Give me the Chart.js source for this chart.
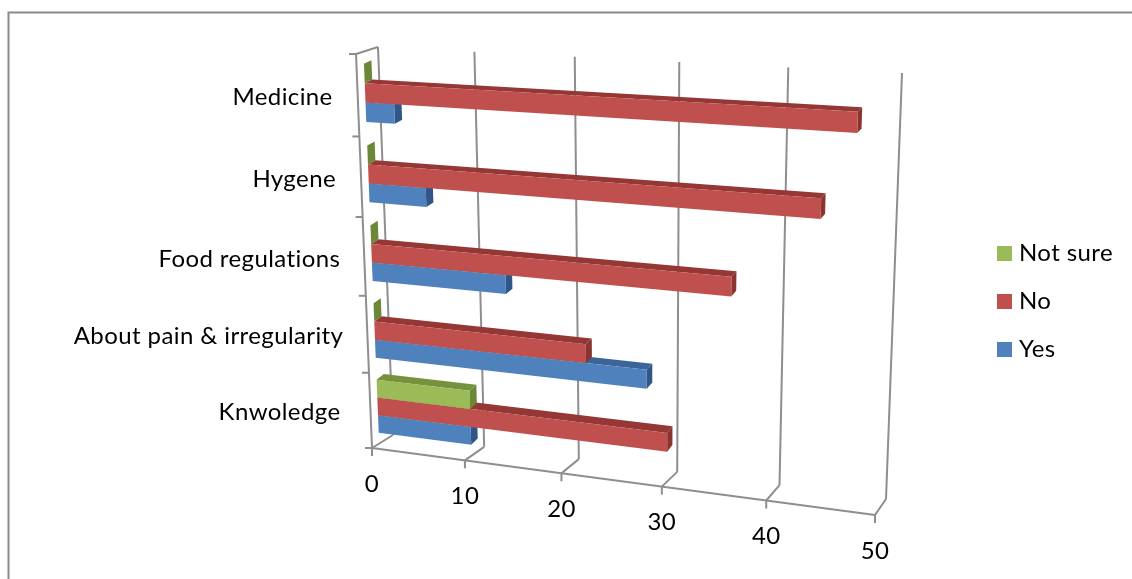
<!DOCTYPE html>
<html>
<head>
<meta charset="utf-8">
<style>html,body{margin:0;padding:0;background:#fff;overflow:hidden}canvas{display:block}</style>
<script src="https://cdn.jsdelivr.net/npm/chart.js@4"></script>
</head>
<body>
<canvas id="c" width="1132" height="579"></canvas>
<script>
const categories = ["Medicine", "Hygene", "Food regulations", "About pain & irregularity", "Knwoledge"];
const notSureValues = [0, 0, 0, 0, 10];
const noValues = [47, 44, 36, 22, 30];
const yesValues = [3, 6, 14, 28, 10];
const valueTicks = [0, 10, 20, 30, 40, 50];

const FONT = '24px Lato';
const SPACING = '0.4px';
const GRID = '#8e8e8e';
const faces = [
  {front: '#9BBB59', top: '#76923C', side: '#6B8738'},
  {front: '#C0504D', top: '#953735', side: '#8A3432'},
  {front: '#4F81BD', top: '#3B6498', side: '#2F5686'}
];

// Projection of the plot rectangle onto the two planes of the 3-D box
const frontQuad = [[356, 54], [890, 82], [875, 515], [372, 448]];
const backQuad = [[378, 47], [902, 73], [886, 499], [393, 435]];
const barFrontDepth = 0.34, barBackDepthX = 0.68, barBackDepthY = 0.82;
const labelGap = [25, 25, 24, 24, 30];
const labelDrop = [2, 2.5, 3, 2, 2];

function squareToQuad(q) {
  const [[x0, y0], [x1, y1], [x2, y2], [x3, y3]] = q;
  const dx1 = x1 - x2, dx2 = x3 - x2, sx = x0 - x1 + x2 - x3;
  const dy1 = y1 - y2, dy2 = y3 - y2, sy = y0 - y1 + y2 - y3;
  const det = dx1 * dy2 - dx2 * dy1;
  const g = (sx * dy2 - dx2 * sy) / det, h = (dx1 * sy - sx * dy1) / det;
  const a = x1 - x0 + g * x1, b = x3 - x0 + h * x3;
  const d = y1 - y0 + g * y1, e = y3 - y0 + h * y3;
  return (u, v) => {
    const w = g * u + h * v + 1;
    return [(a * u + b * v + x0) / w, (d * u + e * v + y0) / w];
  };
}
const mapFront = squareToQuad(frontQuad), mapBack = squareToQuad(backQuad);

function swatch(color) {
  const s = document.createElement('canvas');
  s.width = 15; s.height = 15;
  const g = s.getContext('2d');
  g.fillStyle = color;
  g.fillRect(0, 0, 15, 15);
  return s;
}

const box3d = {
  id: 'box3d',
  beforeUpdate(chart) { chart.ctx.letterSpacing = SPACING; },
  beforeDraw(chart) {
    const ctx = chart.ctx;
    ctx.letterSpacing = SPACING;
    ctx.save();
    ctx.strokeStyle = '#8a8a8a';
    ctx.lineWidth = 2;
    ctx.beginPath();
    ctx.moveTo(8.5, 579); ctx.lineTo(8.5, 12.5); ctx.lineTo(1132, 12.5);
    ctx.stroke();
    ctx.restore();
  },
  beforeDatasetsDraw(chart) {
    const ctx = chart.ctx, area = chart.chartArea;
    const xs = chart.scales.x, ys = chart.scales.y;
    const project = (px, py, z, zy = z) => {
      const u = (px - area.left) / (area.right - area.left);
      const v = (py - area.top) / (area.bottom - area.top);
      const f = mapFront(u, v), b = mapBack(u, v);
      return [f[0] + (b[0] - f[0]) * z, f[1] + (b[1] - f[1]) * zy];
    };
    const poly = (pts, fill) => {
      ctx.fillStyle = fill;
      ctx.beginPath();
      pts.forEach((p, i) => i ? ctx.lineTo(p[0], p[1]) : ctx.moveTo(p[0], p[1]));
      ctx.closePath();
      ctx.fill();
    };
    const line = (a, b) => { ctx.beginPath(); ctx.moveTo(a[0], a[1]); ctx.lineTo(b[0], b[1]); ctx.stroke(); };

    ctx.save();
    ctx.strokeStyle = GRID;
    ctx.lineWidth = 2;
    ctx.lineJoin = 'round';
    const T = area.top, B = area.bottom;

    // value gridlines: back wall, floor diagonal, tick
    valueTicks.forEach(v => {
      const px = xs.getPixelForValue(v);
      const bt = project(px, T, 1), bb = project(px, B, 1), fb = project(px, B, 0);
      line(bt, bb); line(bb, fb); line(fb, [fb[0], fb[1] + 8]);
    });
    // side wall and floor front edge
    const x0 = xs.getPixelForValue(0), x50 = xs.getPixelForValue(50);
    line(project(x0, T, 0), project(x0, B, 0));
    line(project(x0, T, 0), project(x0, T, 1));
    line(project(x0, B, 0), project(x50, B, 0));
    // category ticks on the band edges
    const n = categories.length;
    for (let i = 0; i <= n; i++) {
      const py = T + (B - T) * i / n;
      const p = project(x0, py, 0);
      line(p, [p[0] - 7, p[1]]);
    }

    // bars, taken from the library's own bar elements (lowest series first)
    [2, 1, 0].forEach(di => {
      const meta = chart.getDatasetMeta(di), c = faces[di];
      meta.data.forEach(el => {
        const top = el.y - el.height / 2, bot = el.y + el.height / 2;
        const l = el.base, r = el.x;
        const z0 = barFrontDepth, zx = barBackDepthX, zy = barBackDepthY;
        poly([project(l, top, z0), project(r, top, z0), project(r, top, zx, zy), project(l, top, zx, zy)], c.top);
        poly([project(r, top, z0), project(r, top, zx, zy), project(r, bot, zx, zy), project(r, bot, z0)], c.side);
        poly([project(l, top, z0), project(r, top, z0), project(r, bot, z0), project(l, bot, z0)], c.front);
      });
    });

    // axis labels
    ctx.fillStyle = '#000';
    ctx.font = FONT;
    ctx.textBaseline = 'middle';
    ctx.textAlign = 'center';
    xs.ticks.forEach(t => {
      const p = project(xs.getPixelForValue(t.value), B, 0);
      ctx.fillText(String(t.value), p[0], p[1] + 36);
    });
    ctx.textAlign = 'right';
    categories.forEach((label, i) => {
      const py = ys.getPixelForValue(i);
      const p = project(x0, py, 0);
      ctx.fillText(label, p[0] - labelGap[i], p[1] + labelDrop[i]);
    });
    ctx.restore();
    return false;
  }
};

new Chart(document.getElementById('c'), {
  type: 'bar',
  plugins: [box3d],
  data: {
    labels: categories,
    datasets: [
      {label: 'Not sure', data: notSureValues, backgroundColor: faces[0].front, borderWidth: 0},
      {label: 'No', data: noValues, backgroundColor: faces[1].front, borderWidth: 0},
      {label: 'Yes', data: yesValues, backgroundColor: faces[2].front, borderWidth: 0}
    ]
  },
  options: {
    indexAxis: 'y',
    responsive: false,
    animation: false,
    events: [],
    layout: {padding: {left: 40, top: 64, right: 9, bottom: 40}},
    datasets: {bar: {categoryPercentage: 0.71, barPercentage: 1}},
    scales: {
      x: {min: 0, max: 50, ticks: {display: false, stepSize: 10}, grid: {display: false}, border: {display: false}},
      y: {ticks: {display: false}, grid: {display: false}, border: {display: false}}
    },
    plugins: {
      tooltip: {enabled: false},
      title: {display: false},
      legend: {
        position: 'right',
        labels: {
          font: {family: 'Lato', size: 24},
          color: '#000',
          usePointStyle: true,
          boxWidth: 6,
          boxHeight: 15,
          padding: 24,
          generateLabels: chart => Chart.defaults.plugins.legend.labels.generateLabels(chart)
            .map(item => ({...item, pointStyle: swatch(item.fillStyle)}))
        }
      }
    }
  }
});
</script>
</body>
</html>
